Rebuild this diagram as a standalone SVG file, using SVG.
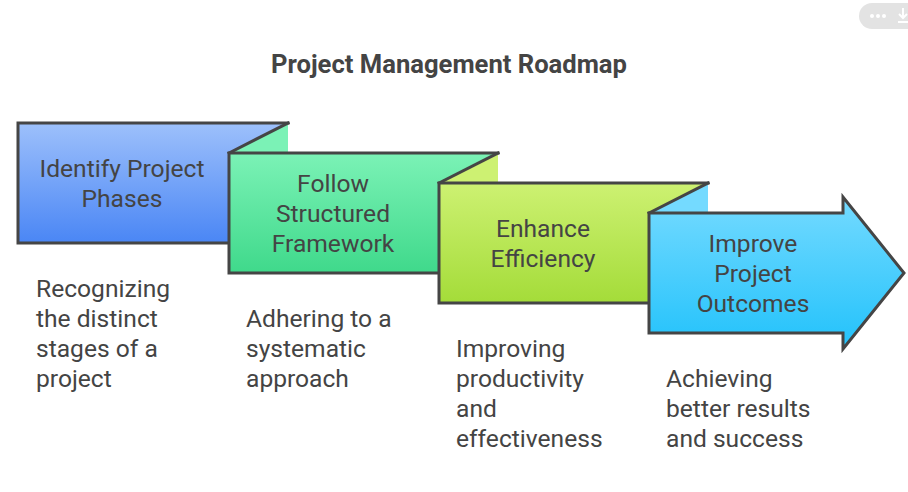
<svg xmlns="http://www.w3.org/2000/svg" width="908" height="492" viewBox="0 0 908 492">
  <style>
    .edge { fill: none; stroke: #454545; stroke-width: 3; stroke-linejoin: miter; stroke-linecap: square; }
    .label { font-family: Roboto, "Liberation Sans", sans-serif; font-size: 24.6px; fill: #444444; text-anchor: middle; }
    .desc { font-family: Roboto, "Liberation Sans", sans-serif; font-size: 24.6px; fill: #444444; }
    .title { font-family: Roboto, "Liberation Sans", sans-serif; font-size: 25.6px; font-weight: bold; fill: #444444; text-anchor: middle; }
  </style>
  <defs>
    <linearGradient id="g1" x1="0" y1="0" x2="0" y2="1">
      <stop offset="0" stop-color="#9DC0FB"/>
      <stop offset="1" stop-color="#4A86F5"/>
    </linearGradient>
    <linearGradient id="g2" x1="0" y1="0" x2="0" y2="1">
      <stop offset="0" stop-color="#7BF2B6"/>
      <stop offset="1" stop-color="#3FD98B"/>
    </linearGradient>
    <linearGradient id="g3" x1="0" y1="0" x2="0" y2="1">
      <stop offset="0" stop-color="#CDF172"/>
      <stop offset="1" stop-color="#A4DC39"/>
    </linearGradient>
    <linearGradient id="g4" x1="0" y1="0" x2="0" y2="1">
      <stop offset="0" stop-color="#74DAFF"/>
      <stop offset="1" stop-color="#22C2FB"/>
    </linearGradient>
  </defs>

  <g id="toolbar">
    <rect x="859" y="3" width="70" height="26" rx="13" fill="#E3E3E3"/>
    <circle cx="872" cy="16" r="2" fill="#FFFFFF"/>
    <circle cx="878" cy="16" r="2" fill="#FFFFFF"/>
    <circle cx="884" cy="16" r="2" fill="#FFFFFF"/>
    <path d="M903,8 L903,18 M899,14 L903,18 L907,14 M898,22 L908,22" fill="none" stroke="#FFFFFF" stroke-width="2"/>
  </g>

  <text class="title" x="449" y="73">Project Management Roadmap</text>

  <g id="node1">
    <rect x="18" y="123" width="270" height="120" fill="url(#g1)"/>
    <path class="edge" d="M288,123 L18,123 L18,243 L229,243"/>
    <text class="label" x="122" y="177">Identify Project</text>
    <text class="label" x="122" y="207">Phases</text>
    <text class="desc" x="36" y="297">Recognizing</text>
    <text class="desc" x="36" y="327">the distinct</text>
    <text class="desc" x="36" y="357">stages of a</text>
    <text class="desc" x="36" y="387">project</text>
  </g>

  <g id="node2">
    <polygon points="229,153 288,123 288,153" fill="#7BF2B6"/>
    <rect x="229" y="153" width="269" height="120" fill="url(#g2)"/>
    <path class="edge" d="M229,153 L288,123"/>
    <path class="edge" d="M498,153 L229,153 L229,273 L439,273"/>
    <text class="label" x="333" y="192">Follow</text>
    <text class="label" x="333" y="222">Structured</text>
    <text class="label" x="333" y="252">Framework</text>
    <text class="desc" x="246" y="327">Adhering to a</text>
    <text class="desc" x="246" y="357">systematic</text>
    <text class="desc" x="246" y="387">approach</text>
  </g>

  <g id="node3">
    <polygon points="439,183 498,153 498,183" fill="#CDF172"/>
    <rect x="439" y="183" width="269" height="120" fill="url(#g3)"/>
    <path class="edge" d="M439,183 L498,153"/>
    <path class="edge" d="M708,183 L439,183 L439,303 L649,303"/>
    <text class="label" x="543" y="237">Enhance</text>
    <text class="label" x="543" y="267">Efficiency</text>
    <text class="desc" x="456" y="357">Improving</text>
    <text class="desc" x="456" y="387">productivity</text>
    <text class="desc" x="456" y="417">and</text>
    <text class="desc" x="456" y="447">effectiveness</text>
  </g>

  <g id="node4">
    <polygon points="649,213 708,183 708,213" fill="#74DAFF"/>
    <polygon points="649,213 843,213 843,197 904,273 843,349 843,333 649,333" fill="url(#g4)"/>
    <path class="edge" d="M649,213 L708,183"/>
    <polygon class="edge" points="649,213 843,213 843,197 904,273 843,349 843,333 649,333"/>
    <text class="label" x="753" y="252">Improve</text>
    <text class="label" x="753" y="282">Project</text>
    <text class="label" x="753" y="312">Outcomes</text>
    <text class="desc" x="666" y="387">Achieving</text>
    <text class="desc" x="666" y="417">better results</text>
    <text class="desc" x="666" y="447">and success</text>
  </g>

  <g id="connectors"></g>
</svg>
